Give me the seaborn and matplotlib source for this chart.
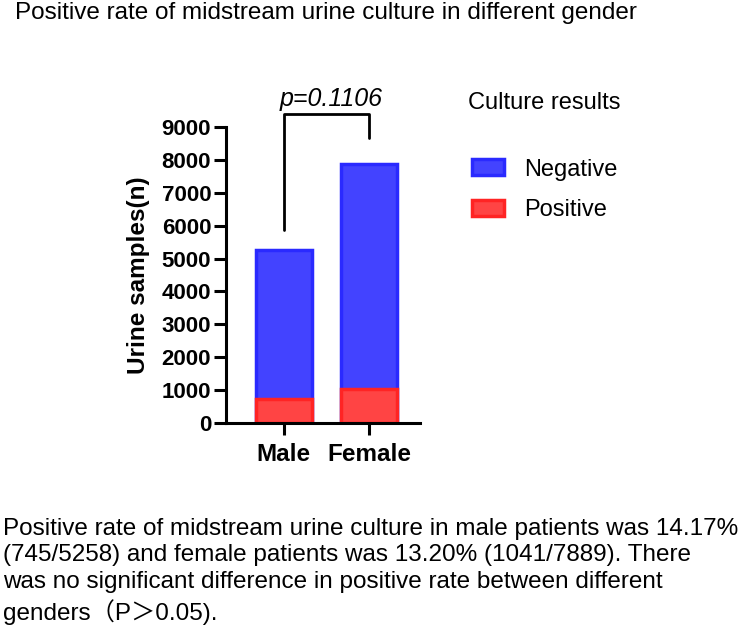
# Stacked bar chart of urine culture results by gender
import pandas as pd
import seaborn as sns
import matplotlib.pyplot as plt

# data
genders = ["Male", "Female"]
totals = [5258, 7889]
positive = [745, 1041]
negative = [t - p for t, p in zip(totals, positive)]
p_text = "p=0.1106"

df = pd.DataFrame({"gender": genders, "total": totals, "positive": positive, "negative": negative})

sns.set_style("ticks")
plt.rcParams["font.family"] = ["Liberation Sans", "DejaVu Sans"]
plt.rcParams["text.color"] = "black"
plt.rcParams["axes.labelcolor"] = "black"
plt.rcParams["xtick.color"] = "black"
plt.rcParams["ytick.color"] = "black"

fig = plt.figure(figsize=(7.5, 6.29), dpi=100)
ax = fig.add_axes([0.301, 0.3275, 0.259, 0.4705])

blue_fill = "#4343ff"
blue_edge = "#2a2aff"
red_fill = "#ff4444"
red_edge = "#ff2424"

# negative sits on top of positive, so draw full height in blue first
sns.barplot(data=df, x="gender", y="total", color=blue_fill, width=0.66,
            edgecolor=blue_edge, linewidth=2.5, saturation=1, ax=ax, label="Negative")
sns.barplot(data=df, x="gender", y="positive", color=red_fill, width=0.66,
            edgecolor=red_edge, linewidth=2.5, saturation=1, ax=ax, label="Positive")

ax.set_xlim(-0.68, 1.6)
ax.set_ylim(0, 9000)
ax.set_yticks(range(0, 9001, 1000))
ax.set_xlabel("")
ax.set_ylabel("Urine samples(n)", fontsize=17.5, fontweight="bold", labelpad=8)
ax.tick_params(axis="both", width=2.2, length=8.5, color="black")
ax.tick_params(axis="y", labelsize=16, pad=2)
ax.tick_params(axis="x", labelsize=17.5, pad=6)
for lab in ax.get_xticklabels() + ax.get_yticklabels():
    lab.set_fontweight("bold")
sns.despine(ax=ax)
for s in ["left", "bottom"]:
    ax.spines[s].set_linewidth(2.2)
    ax.spines[s].set_color("black")

# significance bracket
ax.plot([0, 0, 1, 1], [5868, 9395, 9395, 8665], color="black", lw=2, clip_on=False)
ax.text(0.56, 9500, p_text, ha="center", va="bottom", fontsize=18, style="italic")

leg = ax.legend(title="Culture results", loc="upper left", bbox_to_anchor=(1.14, 1.19),
                frameon=False, fontsize=17, title_fontsize=17,
                handlelength=1.35, handleheight=0.64, labelspacing=0.8, handletextpad=0.85)
leg._legend_box.sep = 32

fig.text(0.02, 0.979, "Positive rate of midstream urine culture in different gender",
         fontsize=17.5, va="center", ha="left")
fig.text(0.004, 0.177,
         "Positive rate of midstream urine culture in male patients was 14.17%\n"
         "(745/5258) and female patients was 13.20% (1041/7889). There\n"
         "was no significant difference in positive rate between different\n"
         "genders\uff08P\uff1e0.05).",
         fontsize=17.5, va="top", ha="left", linespacing=1.28,
         family=["Liberation Sans", "Noto Sans CJK SC", "DejaVu Sans"])

fig.savefig("out.png", dpi=100)
